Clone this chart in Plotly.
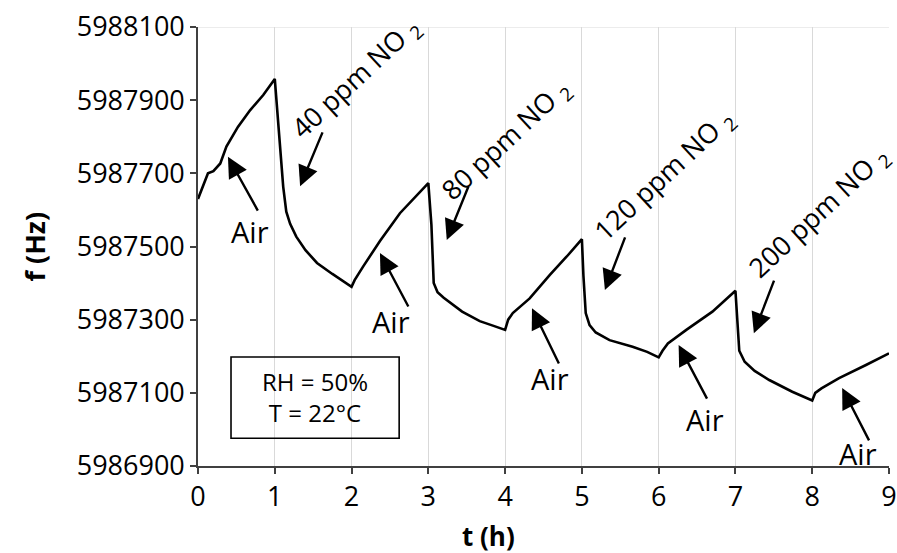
import plotly.graph_objects as go

# ---- data ----
t_h = [0.00, 0.06, 0.13, 0.20, 0.29, 0.37, 0.52, 0.68, 0.85, 1.00,
       1.06, 1.11, 1.15, 1.20, 1.28, 1.40, 1.55, 1.75, 2.00,
       2.04, 2.15, 2.37, 2.63, 2.85, 3.00,
       3.04, 3.07, 3.12, 3.20, 3.44, 3.67, 3.85, 4.00,
       4.04, 4.10, 4.32, 4.58, 4.80, 5.00,
       5.02, 5.05, 5.10, 5.18, 5.36, 5.66, 5.85, 6.00,
       6.05, 6.12, 6.36, 6.70, 7.00,
       7.02, 7.05, 7.12, 7.25, 7.44, 7.74, 8.00,
       8.04, 8.12, 8.35, 8.70, 9.00]
f_hz = [5987630, 5987665, 5987700, 5987706, 5987727, 5987773, 5987827, 5987873, 5987914, 5987958,
        5987790, 5987663, 5987595, 5987562, 5987527, 5987490, 5987455, 5987425, 5987390,
        5987408, 5987445, 5987515, 5987591, 5987640, 5987673,
        5987560, 5987400, 5987375, 5987360, 5987322, 5987296, 5987283, 5987272,
        5987300, 5987318, 5987358, 5987422, 5987472, 5987520,
        5987420, 5987318, 5987285, 5987265, 5987244, 5987226, 5987212, 5987197,
        5987215, 5987235, 5987272, 5987322, 5987379,
        5987300, 5987215, 5987185, 5987160, 5987135, 5987103, 5987079,
        5987100, 5987112, 5987140, 5987176, 5987208]

gas_labels = ["40 ppm NO <sub>2</sub>", "80 ppm NO <sub>2</sub>",
              "120 ppm NO <sub>2</sub>", "200 ppm NO <sub>2</sub>"]
gas_label_t = [2.06, 4.01, 6.08, 8.09]
gas_label_f = [5987960, 5987791, 5987693, 5987594]
gas_tail_t = [1.63, 3.53, 5.57, 7.51]
gas_tail_f = [5987816, 5987668, 5987529, 5987411]
gas_head_t = [1.33, 3.24, 5.30, 7.24]
gas_head_f = [5987665, 5987518, 5987381, 5987263]

air_text_t = [0.68, 2.51, 4.58, 6.60, 8.59]
air_text_f = [5987542, 5987294, 5987140, 5987026, 5986935]
air_tail_t = [0.79, 2.75, 4.71, 6.64, 8.75]
air_tail_f = [5987594, 5987332, 5987176, 5987080, 5986966]
air_head_t = [0.39, 2.37, 4.35, 6.26, 8.39]
air_head_f = [5987745, 5987482, 5987331, 5987231, 5987113]

x_ticks = [0, 1, 2, 3, 4, 5, 6, 7, 8, 9]
y_ticks = [5986900, 5987100, 5987300, 5987500, 5987700, 5987900, 5988100]

FONT = "Open Sans"
fig = go.Figure()
fig.add_trace(go.Scatter(x=t_h, y=f_hz, mode="lines",
                         line=dict(color="black", width=2.6),
                         showlegend=False, hoverinfo="skip"))

ann = []
for lab, lt, lf, tt, tf, ht, hf in zip(gas_labels, gas_label_t, gas_label_f,
                                       gas_tail_t, gas_tail_f, gas_head_t, gas_head_f):
    ann.append(dict(x=lt, y=lf, xref="x", yref="y", text=lab, showarrow=False,
                    textangle=-43, xanchor="center", yanchor="middle",
                    font=dict(family=FONT, size=27, color="black")))
    ann.append(dict(x=ht, y=hf, ax=tt, ay=tf, xref="x", yref="y", axref="x", ayref="y",
                    text="", showarrow=True, arrowhead=2, arrowsize=1.7,
                    arrowwidth=2.4, arrowcolor="black", standoff=0))
for lt, lf, tt, tf, ht, hf in zip(air_text_t, air_text_f, air_tail_t, air_tail_f,
                                  air_head_t, air_head_f):
    ann.append(dict(x=lt, y=lf, xref="x", yref="y", text="Air", showarrow=False,
                    xanchor="center", yanchor="middle",
                    font=dict(family=FONT, size=29, color="black")))
    ann.append(dict(x=ht, y=hf, ax=tt, ay=tf, xref="x", yref="y", axref="x", ayref="y",
                    text="", showarrow=True, arrowhead=2, arrowsize=1.7,
                    arrowwidth=2.4, arrowcolor="black", standoff=0))

# condition box
ann.append(dict(x=1.52, y=5987088, xref="x", yref="y",
                text="RH = 50%<br>T = 22°C", showarrow=False,
                xanchor="center", yanchor="middle", align="center",
                font=dict(family=FONT, size=24, color="black")))

# axis titles
ann.append(dict(x=0.42, y=-0.159, xref="paper", yref="paper", text="<b>t (h)</b>",
                showarrow=False, xanchor="center", yanchor="middle",
                font=dict(family=FONT, size=26, color="black")))
ann.append(dict(x=-0.236, y=0.5, xref="paper", yref="paper", text="<b>f (Hz)</b>",
                showarrow=False, xanchor="center", yanchor="middle", textangle=-90,
                font=dict(family=FONT, size=27, color="black")))

shapes = [
    dict(type="rect", xref="x", yref="y", x0=0.43, x1=2.62, y0=5986976, y1=5987198,
         line=dict(color="black", width=1.6), fillcolor="rgba(0,0,0,0)"),
    dict(type="line", xref="paper", yref="y", x0=0, x1=1, y0=5988100, y1=5988100,
         line=dict(color="#d9d9d9", width=1.2)),
]

fig.update_layout(
    width=897, height=553,
    margin=dict(l=198, r=8, t=27, b=87),
    paper_bgcolor="white", plot_bgcolor="white",
    font=dict(family=FONT, size=27, color="black"),
    annotations=ann, shapes=shapes,
    xaxis=dict(range=[0, 9], tickvals=x_ticks, showgrid=True, gridcolor="#d9d9d9",
               gridwidth=1.2, zeroline=False, showline=True, linecolor="#404040",
               linewidth=1.6, ticks="outside", ticklen=6, tickcolor="#404040",
               tickwidth=1.6, automargin=False,
               tickfont=dict(family=FONT, size=27, color="black")),
    yaxis=dict(range=[5986900, 5988100], tickvals=y_ticks, tickformat="d",
               showgrid=False, zeroline=False, showline=True, linecolor="#404040",
               linewidth=1.6, ticks="outside", ticklen=6, tickcolor="#404040",
               tickwidth=1.6, automargin=False,
               tickfont=dict(family=FONT, size=27, color="black")),
)

fig.write_html("out.html")
